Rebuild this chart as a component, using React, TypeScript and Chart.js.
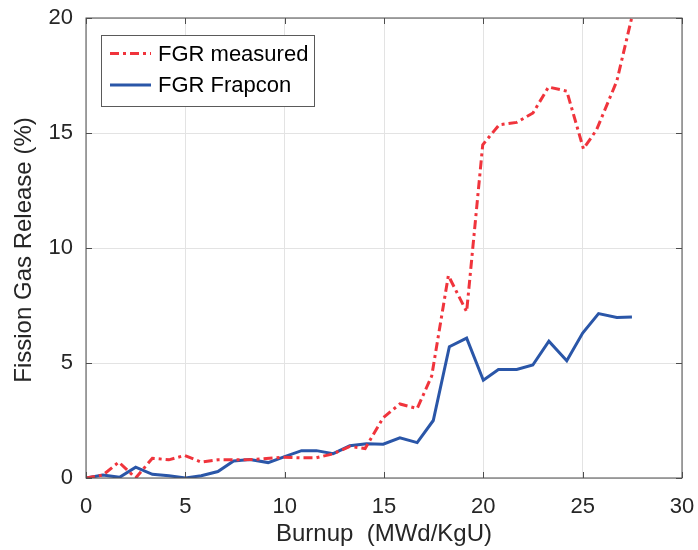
import { useEffect, useRef } from "react";
import { Chart, registerables } from "chart.js";

Chart.register(...registerables);

const measuredBurnup = [0, 0.85, 1.65, 2.5, 3.34, 4.17, 4.96, 5.8, 6.64, 7.43, 8.25, 9.08, 9.92, 10.76, 11.6, 12.44, 13.28, 14.05, 14.96, 15.8, 16.67, 17.4, 18.24, 19.16, 19.97, 20.8, 21.68, 22.5, 23.28, 24.2, 25.04, 25.7, 26.72, 27.48];
const measuredFgr = [0, 0.13, 0.69, 0.0, 0.86, 0.79, 0.98, 0.69, 0.79, 0.79, 0.8, 0.85, 0.9, 0.88, 0.88, 1.05, 1.37, 1.28, 2.62, 3.22, 3.02, 4.43, 8.8, 7.23, 14.49, 15.36, 15.46, 15.87, 17.0, 16.82, 14.31, 15.14, 17.26, 20.05];

const frapconBurnup = [0, 0.85, 1.69, 2.5, 3.34, 4.17, 5.01, 5.8, 6.64, 7.43, 8.25, 9.17, 10.0, 10.85, 11.6, 12.44, 13.28, 14.12, 14.96, 15.8, 16.67, 17.48, 18.29, 19.16, 20.0, 20.76, 21.68, 22.49, 23.3, 24.2, 25.0, 25.8, 26.72, 27.48];
const frapconFgr = [0, 0.13, 0.03, 0.47, 0.16, 0.1, 0.0, 0.1, 0.28, 0.74, 0.8, 0.67, 0.93, 1.19, 1.19, 1.06, 1.4, 1.49, 1.47, 1.75, 1.54, 2.5, 5.71, 6.08, 4.25, 4.72, 4.72, 4.91, 5.95, 5.1, 6.3, 7.15, 6.98, 7.0];

const xTicks = [0, 5, 10, 15, 20, 25, 30];
const yTicks = [0, 5, 10, 15, 20];
const seriesLabels = ["FGR measured", "FGR Frapcon"];
const xTitle = "Burnup  (MWd/KgU)";
const yTitle = "Fission Gas Release (%)";

const RED = "#f0343c";
const BLUE = "#2a56a8";
const TEXT = "#262626";
const FONT = "'Liberation Sans', Arial, Helvetica, sans-serif";
const RED_DASH = [9, 4, 3, 4];

const decorPlugin = {
  id: "decor",
  afterDatasetsDraw(chart: any) {
    const { ctx, chartArea } = chart;
    const { left, right, top, bottom } = chartArea;
    const xs = chart.scales.x;
    const ys = chart.scales.y;
    ctx.save();
    // frame
    ctx.strokeStyle = "#4d4d4d";
    ctx.lineWidth = 1;
    ctx.strokeRect(left, top, right - left, bottom - top);
    // inward ticks
    const tl = 6;
    ctx.beginPath();
    xTicks.forEach((v) => {
      const px = Math.round(xs.getPixelForValue(v)) + 0.5;
      ctx.moveTo(px, bottom);
      ctx.lineTo(px, bottom - tl);
      ctx.moveTo(px, top);
      ctx.lineTo(px, top + tl);
    });
    yTicks.forEach((v) => {
      const py = Math.round(ys.getPixelForValue(v)) + 0.5;
      ctx.moveTo(left, py);
      ctx.lineTo(left + tl, py);
      ctx.moveTo(right, py);
      ctx.lineTo(right - tl, py);
    });
    ctx.stroke();

    // axis titles
    ctx.fillStyle = TEXT;
    ctx.font = `24px ${FONT}`;
    ctx.textAlign = "center";
    ctx.textBaseline = "alphabetic";
    ctx.fillText(xTitle, (left + right) / 2, 541);
    ctx.save();
    ctx.translate(31, (top + bottom) / 2 + 2);
    ctx.rotate(-Math.PI / 2);
    ctx.fillText(yTitle, 0, 0);
    ctx.restore();

    // legend
    const bx = 101.5, by = 35.5, bw = 213, bh = 71;
    ctx.fillStyle = "#ffffff";
    ctx.fillRect(bx, by, bw, bh);
    ctx.strokeStyle = "#5a5a5a";
    ctx.lineWidth = 1;
    ctx.strokeRect(bx, by, bw, bh);
    const rows = [
      { label: seriesLabels[0], color: RED, dash: RED_DASH, y: 53.5 },
      { label: seriesLabels[1], color: BLUE, dash: [] as number[], y: 85 },
    ];
    rows.forEach((r) => {
      ctx.beginPath();
      ctx.strokeStyle = r.color;
      ctx.lineWidth = 3;
      ctx.setLineDash(r.dash);
      ctx.moveTo(110, r.y);
      ctx.lineTo(151, r.y);
      ctx.stroke();
      ctx.setLineDash([]);
      ctx.fillStyle = "#000000";
      ctx.font = `22px ${FONT}`;
      ctx.textAlign = "left";
      ctx.textBaseline = "middle";
      ctx.fillText(r.label, 158, r.y + 1);
    });
    ctx.restore();
  },
};

export default function App() {
  const ref = useRef<HTMLCanvasElement | null>(null);
  useEffect(() => {
    if (!ref.current) return;
    const chart = new Chart(ref.current, {
      type: "line",
      data: {
        datasets: [
          {
            label: seriesLabels[0],
            data: measuredBurnup.map((x, i) => ({ x, y: measuredFgr[i] })),
            borderColor: RED,
            borderWidth: 3,
            borderDash: RED_DASH,
            pointRadius: 0,
            tension: 0,
            fill: false,
          },
          {
            label: seriesLabels[1],
            data: frapconBurnup.map((x, i) => ({ x, y: frapconFgr[i] })),
            borderColor: BLUE,
            borderWidth: 3,
            pointRadius: 0,
            tension: 0,
            fill: false,
          },
        ],
      },
      options: {
        animation: false,
        responsive: true,
        maintainAspectRatio: false,
        layout: { padding: { left: 0, top: 18, right: 16, bottom: 0 } },
        plugins: {
          legend: { display: false },
          tooltip: { enabled: false },
          title: { display: false },
        },
        scales: {
          x: {
            type: "linear",
            min: 0,
            max: 30,
            afterBuildTicks: (s: any) => {
              s.ticks = xTicks.map((v) => ({ value: v }));
            },
            afterFit: (s: any) => {
              s.height = 72;
              s.paddingLeft = 0;
              s.paddingRight = 0;
            },
            ticks: {
              color: TEXT,
              font: { family: FONT, size: 22 },
              padding: 16,
              maxRotation: 0,
              autoSkip: false,
            },
            grid: { color: "#e3e3e3", lineWidth: 1, drawTicks: false },
            border: { display: false },
          },
          y: {
            type: "linear",
            min: 0,
            max: 20,
            afterBuildTicks: (s: any) => {
              s.ticks = yTicks.map((v) => ({ value: v }));
            },
            afterFit: (s: any) => {
              s.width = 86;
              s.paddingTop = 0;
              s.paddingBottom = 0;
            },
            ticks: {
              color: TEXT,
              font: { family: FONT, size: 22 },
              padding: 13,
              autoSkip: false,
            },
            grid: { color: "#e3e3e3", lineWidth: 1, drawTicks: false },
            border: { display: false },
          },
        },
      },
      plugins: [decorPlugin],
    });
    return () => chart.destroy();
  }, []);

  return (
    <div style={{ position: "absolute", left: 0, top: 0, width: 698, height: 550, background: "#ffffff" }}>
      <canvas ref={ref} style={{ display: "block" }} />
    </div>
  );
}
